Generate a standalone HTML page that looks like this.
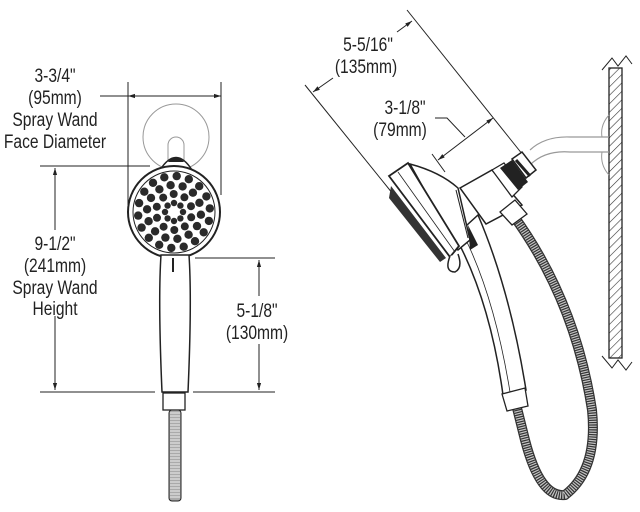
<!DOCTYPE html>
<html><head><meta charset="utf-8"><style>
html,body{margin:0;padding:0;background:#fff;}
svg{display:block}
text{font-family:"Liberation Sans",sans-serif;font-size:19.5px;fill:#222;text-anchor:middle}
</style></head><body>
<svg width="640" height="512" viewBox="0 0 640 512" xmlns="http://www.w3.org/2000/svg">
<defs>
<marker id="a" viewBox="0 0 10 10" refX="10" refY="5" markerWidth="7" markerHeight="7" orient="auto-start-reverse"><path d="M0,2 L10,5 L0,8 z" fill="#222"/></marker>
<pattern id="h" width="6" height="6" patternUnits="userSpaceOnUse" patternTransform="rotate(45)"><line x1="0" y1="0" x2="0" y2="6" stroke="#333" stroke-width="1.2"/></pattern>
</defs>
<g stroke="#222" stroke-width="1" fill="none">
<line x1="128" y1="82" x2="128" y2="205"/>
<line x1="221" y1="82" x2="221" y2="195"/>
<line x1="100" y1="96" x2="128" y2="96"/>
<line x1="128" y1="96" x2="221" y2="96" marker-start="url(#a)" marker-end="url(#a)"/>
<line x1="40" y1="166" x2="150" y2="166"/>
<line x1="55" y1="168" x2="55" y2="230" marker-start="url(#a)"/>
<line x1="55" y1="316" x2="55" y2="390" marker-end="url(#a)"/>
<line x1="40" y1="392" x2="155" y2="392"/>
<line x1="193" y1="392" x2="275" y2="392"/>
<line x1="195" y1="258" x2="275" y2="258"/>
<line x1="259" y1="260" x2="259" y2="296" marker-start="url(#a)"/>
<line x1="259" y1="344" x2="259" y2="390" marker-end="url(#a)"/>
</g>
<circle cx="176" cy="137" r="33" fill="none" stroke="#999" stroke-width="1"/>
<path d="M168,160 L168,145 A8,8 0 0 1 184,145 L184,160" fill="none" stroke="#999"/>
<path d="M160,170 Q176,145 192,170 Z" fill="#fff" stroke="#222" stroke-width="1.5"/>
<path d="M168,162 Q176,152 184,162" fill="#222"/>
<circle cx="174" cy="212" r="46" fill="#fff" stroke="#222" stroke-width="2"/>
<circle cx="174" cy="212" r="41" fill="#fff" stroke="#222" stroke-width="1"/>
<g fill="#2a2a2a" id="noz"></g>
<path d="M161,255 Q158,300 162,392 L188,392 Q192,300 189,255 Z" fill="#fff" stroke="#222" stroke-width="1.5"/>
<line x1="173" y1="258" x2="173" y2="272" stroke="#222" stroke-width="2"/>
<rect x="163" y="393" width="22" height="17" fill="#fff" stroke="#222" stroke-width="1.3"/>
<rect x="169" y="410" width="12" height="91" rx="3" fill="#aaa" stroke="#222" stroke-width="1"/>
<g stroke="#fff" stroke-width="0.8" id="hs"></g>
<g>
<text transform="translate(55,82) scale(0.8,1)">3-3/4"</text>
<text transform="translate(55,104) scale(0.8,1)">(95mm)</text>
<text transform="translate(55,126) scale(0.8,1)">Spray Wand</text>
<text transform="translate(55,148) scale(0.8,1)">Face Diameter</text>
<text transform="translate(55,250) scale(0.8,1)">9-1/2"</text>
<text transform="translate(55,272) scale(0.8,1)">(241mm)</text>
<text transform="translate(55,294) scale(0.8,1)">Spray Wand</text>
<text transform="translate(55,315) scale(0.8,1)">Height</text>
<text transform="translate(257,317) scale(0.8,1)">5-1/8"</text>
<text transform="translate(257,339) scale(0.8,1)">(130mm)</text>
<text transform="translate(368,51) scale(0.8,1)">5-5/16"</text>
<text transform="translate(366,73) scale(0.8,1)">(135mm)</text>
<text transform="translate(405,114) scale(0.8,1)">3-1/8"</text>
<text transform="translate(400,136) scale(0.8,1)">(79mm)</text>
</g>
<g stroke="#222" stroke-width="1" fill="none">
<line x1="407" y1="10" x2="523" y2="155"/>
<line x1="305" y1="85" x2="393" y2="194"/>
<line x1="313" y1="92" x2="333" y2="78" marker-start="url(#a)"/>
<line x1="397" y1="32" x2="412" y2="21" marker-end="url(#a)"/>
<line x1="432" y1="154" x2="445" y2="172"/>
<line x1="438" y1="160" x2="493" y2="118" marker-start="url(#a)" marker-end="url(#a)"/>
<path d="M435,118 L447,118 L465,137"/>
</g>
<rect x="609" y="68" width="13" height="290" fill="url(#h)" stroke="#222" stroke-width="1.3"/>
<path d="M602,70 L612,58 L618,66 L626,56 L632,64" fill="none" stroke="#222"/>
<path d="M602,356 L612,368 L618,360 L626,370 L632,362" fill="none" stroke="#222"/>
<path d="M530,150 Q545,136 570,137 L609,137 M530,165 Q545,150 570,152 L609,152" fill="none" stroke="#999" stroke-width="1.2"/>
<path d="M609,115 Q600,125 602,137 M609,175 Q600,165 602,152" fill="none" stroke="#999"/>
<path d="M513,215 Q575,300 592,410 Q598,470 565,495 Q540,498 525,440 L517,408" fill="none" stroke="#333" stroke-width="10" stroke-linecap="round"/>
<path d="M513,215 Q575,300 592,410 Q598,470 565,495 Q540,498 525,440 L517,408" fill="none" stroke="#c4c4c4" stroke-width="7.5" stroke-dasharray="1.2 1.2"/>
<path d="M455,236 Q490,300 503,395 L526,390 Q510,290 478,215 Z" fill="#fff" stroke="#222" stroke-width="1.5"/>
<path d="M466,240 Q495,300 510,392" fill="none" stroke="#222" stroke-width="0.8"/>
<path d="M502,394 L525,388 L528,406 L507,411 Z" fill="#fff" stroke="#222" stroke-width="1.3"/>
<polygon points="460,188 492,170 522,205 486,224" fill="#fff" stroke="#222" stroke-width="1.5"/>
<polygon points="492,170 504,163 522,187 512,197" fill="#fff" stroke="#222" stroke-width="1.3"/>
<polygon points="500,168 512,160 528,182 518,190" fill="#222"/>
<polygon points="512,159 522,152 536,170 526,178" fill="#fff" stroke="#222" stroke-width="1.5"/>
<line x1="516" y1="160" x2="530" y2="176" stroke="#222" stroke-width="3"/>
<polygon points="500,212 515,200 527,214 512,225" fill="#fff" stroke="#222" stroke-width="1.3"/>
<path d="M410,164 Q440,172 458,188 L470,240 L458,250 Z" fill="#fff" stroke="#222" stroke-width="1.5"/>
<path d="M456,190 L468,238" stroke="#222" stroke-width="1"/>
<path d="M468,225 L478,245 L470,250 Z" fill="#222"/>
<polygon points="389,176 408,163 459,246 450,257" fill="#fff" stroke="#222" stroke-width="1.8"/>
<line x1="398" y1="172" x2="455" y2="252" stroke="#222" stroke-width="0.8"/>
<path d="M391,186 L446,258 L440,262 L389,198 Z" fill="#333"/>
<path d="M450,256 Q444,272 455,272 Q463,268 458,254" fill="#fff" stroke="#222" stroke-width="1.5"/>
</svg>
<script>
var g=document.getElementById('noz'),s='';
var rings=[[9,8,3.2,0],[18,10,4,0.3],[27,14,4.2,0.1],[36,18,4.2,0.25]];
rings.forEach(function(r){for(var i=0;i<r[1];i++){var t=2*Math.PI*i/r[1]+r[3];s+='<circle cx="'+(174+r[0]*Math.cos(t)).toFixed(1)+'" cy="'+(212+r[0]*Math.sin(t)).toFixed(1)+'" r="'+r[2]+'"/>';}});
g.innerHTML=s;
var h=document.getElementById('hs'),q='';for(var y=413;y<500;y+=3)q+='<line x1="170" y1="'+y+'" x2="180" y2="'+y+'"/>';h.innerHTML=q;
</script>
</body></html>
